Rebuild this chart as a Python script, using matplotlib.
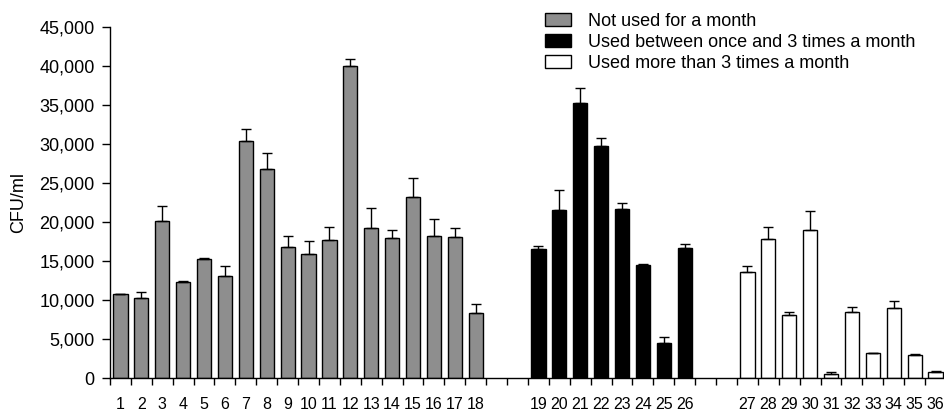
import numpy as np
import matplotlib
matplotlib.use("Agg")
import matplotlib.pyplot as plt
from matplotlib.patches import Patch
from matplotlib.ticker import FuncFormatter

plt.rcParams['font.family'] = ['Liberation Sans', 'DejaVu Sans']

# group 1: not used for a month (samples 1-18)
labels_g1 = [str(i) for i in range(1, 19)]
means_g1 = [10700, 10250, 20170, 12290, 15270, 13130, 30410, 26790, 16720,
            15910, 17740, 39970, 19240, 17920, 23240, 18170, 18090, 8270]
err_g1 = [0, 720, 1920, 110, 80, 1280, 1500, 2050, 1490,
          1580, 1590, 860, 2560, 1020, 2440, 2260, 1110, 1200]

# group 2: used between once and 3 times a month (samples 19-26)
labels_g2 = [str(i) for i in range(19, 27)]
means_g2 = [16510, 21540, 35240, 29730, 21630, 14460, 4520, 16640]
err_g2 = [340, 2520, 1920, 1030, 850, 80, 770, 550]

# group 3: used more than 3 times a month (samples 27-36)
labels_g3 = [str(i) for i in range(27, 37)]
means_g3 = [13610, 17830, 8010, 19020, 550, 8400, 3240, 8910, 2980, 770]
err_g3 = [770, 1500, 480, 2350, 170, 680, 0, 980, 40, 80]

legend_labels = ["Not used for a month",
                 "Used between once and 3 times a month",
                 "Used more than 3 times a month"]
colors = ["#8e8e8e", "#000000", "#ffffff"]

# slot positions: two empty slots between groups
pos_g1 = np.arange(0, 18)
pos_g2 = np.arange(20, 28)
pos_g3 = np.arange(30, 40)

fig = plt.figure(figsize=(9.44, 4.12), dpi=100)
ax = fig.add_axes([0.1165, 0.0825, 0.8856, 0.8527])

groups = [(pos_g1, means_g1, err_g1), (pos_g2, means_g2, err_g2), (pos_g3, means_g3, err_g3)]
for (pos, m, e), c in zip(groups, colors):
    ax.bar(pos, m, width=0.68, color=c, edgecolor="black", linewidth=1.0,
           yerr=[np.zeros(len(e)), e], capsize=3.5,
           error_kw=dict(ecolor="black", elinewidth=1.0, capthick=1.0))

ax.set_xlim(-0.5, 39.5)
ax.set_ylim(0, 45000)
ax.set_yticks(np.arange(0, 45001, 5000))
ax.yaxis.set_major_formatter(FuncFormatter(lambda v, p: f"{int(v):,}"))

ax.set_xticks(np.concatenate([pos_g1, pos_g2, pos_g3]))
ax.set_xticklabels(labels_g1 + labels_g2 + labels_g3)
ax.set_xticks(np.arange(-0.5, 40, 1.0), minor=True)
ax.tick_params(axis="x", which="major", length=0, pad=14, labelsize=11.5)
ax.tick_params(axis="x", which="minor", length=5, width=1.0, direction="out")
ax.tick_params(axis="y", length=6, width=1.0, labelsize=13, pad=5)

for s in ["top", "right"]:
    ax.spines[s].set_visible(False)
ax.spines["left"].set_linewidth(1.0)
ax.spines["bottom"].set_linewidth(1.0)

ax.set_ylabel("CFU/ml", fontsize=13, labelpad=9)

handles = [Patch(facecolor=c, edgecolor="black", linewidth=1.0) for c in colors]
fig.legend(handles, legend_labels, loc="upper left", bbox_to_anchor=(0.5636, 1.0),
           frameon=False, fontsize=13, handlelength=1.45, handleheight=0.75,
           handletextpad=0.95, labelspacing=0.22, borderpad=0.2)

fig.savefig("out.png", dpi=100)
